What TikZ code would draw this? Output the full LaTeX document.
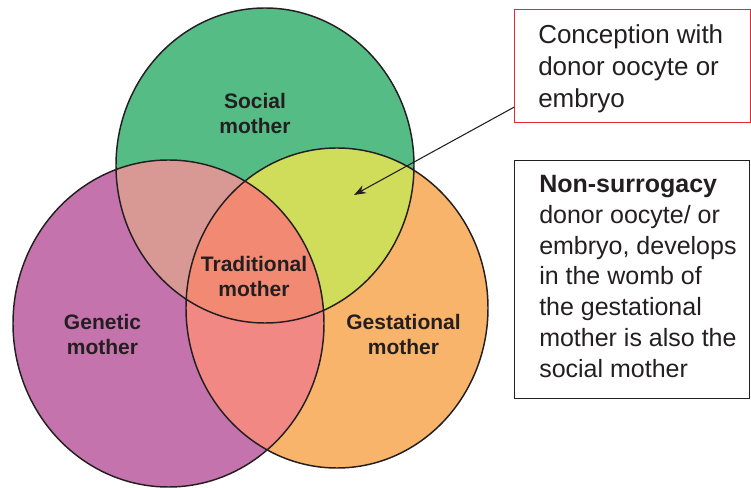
\documentclass[tikz,border=0pt]{standalone}
\usepackage{fontspec}
\setmainfont{Liberation Sans}
\usetikzlibrary{arrows.meta}

\definecolor{cSoc}{RGB}{85,188,133}
\definecolor{cGen}{RGB}{197,115,173}
\definecolor{cGes}{RGB}{249,180,107}
\definecolor{cSocGen}{RGB}{216,152,148}
\definecolor{cSocGes}{RGB}{208,221,90}
\definecolor{cGenGes}{RGB}{241,136,132}
\definecolor{cAll}{RGB}{242,138,115}
\definecolor{ink}{RGB}{35,31,32}
\definecolor{boxred}{RGB}{230,40,50}

% the three sets, in pixel-like units
\def\socialset{(265,165.5) ellipse [x radius=111.75pt, y radius=118.125pt]}
\def\geneticset{(168.5,323.5) ellipse [x radius=116.625pt, y radius=122.625pt]}
\def\gestset{(337,308) ellipse [x radius=113.25pt, y radius=120pt]}

\tikzset{
  setline/.style={draw=ink, line width=1.1pt},
  setlabel/.style={font=\fontsize{15.75pt}{18.75pt}\selectfont\bfseries, text=ink, align=center, inner sep=0pt},
  frame/.style={rectangle, line width=0.9pt, inner sep=0pt, anchor=north west},
  boxtext/.style={align=left, inner sep=0pt, anchor=north west, text=ink},
  pointer/.style={draw=ink, line width=0.8pt, -{Stealth[length=9pt, width=6.5pt]}}
}

\begin{document}
\begin{tikzpicture}[x=0.75pt, y=-0.75pt]
\useasboundingbox (0,0) rectangle (751,488);

% plain regions
\fill[cSoc] \socialset;
\fill[cGen] \geneticset;
\fill[cGes] \gestset;
% pairwise overlaps
\begin{scope}
  \clip \socialset;
  \fill[cSocGen] \geneticset;
  \fill[cSocGes] \gestset;
\end{scope}
\begin{scope}
  \clip \geneticset;
  \fill[cGenGes] \gestset;
\end{scope}
% overlap of all three
\begin{scope}
  \clip \socialset;
  \clip \geneticset;
  \fill[cAll] \gestset;
\end{scope}
% outlines
\draw[setline] \socialset;
\draw[setline] \geneticset;
\draw[setline] \gestset;

% set labels
\node[setlabel] (social) at (255,113) {Social\\mother};
\node[setlabel] (traditional) at (254,276) {Traditional\\mother};
\node[setlabel] (genetic) at (102.5,334) {Genetic\\mother};
\node[setlabel] (gestational) at (403.5,334) {Gestational\\mother};

% callout: conception with donor gametes
\node[frame, draw=boxred, minimum width=177pt, minimum height=84.75pt] (conception) at (514,9) {};
\node[boxtext, font=\fontsize{19.5pt}{24pt}\selectfont] (conceptiontext) at (538,24)
  {Conception with\\donor oocyte or\\embryo};

% explanation box
\node[frame, draw=ink, minimum width=176.25pt, minimum height=178.5pt] (nonsurrogacy) at (514,160) {};
\node[boxtext, font=\fontsize{18.75pt}{23.1pt}\selectfont] (nonsurrogacytext) at (539,175)
  {\textbf{Non-surrogacy}\\donor oocyte/ or\\embryo, develops\\in the womb of\\the gestational\\mother is also the\\social mother};

% pointer into the social/gestational overlap
\coordinate (target) at (354,195);
\draw[pointer] ([yshift=12pt]conception.south west) -- (target);
\end{tikzpicture}
\end{document}
